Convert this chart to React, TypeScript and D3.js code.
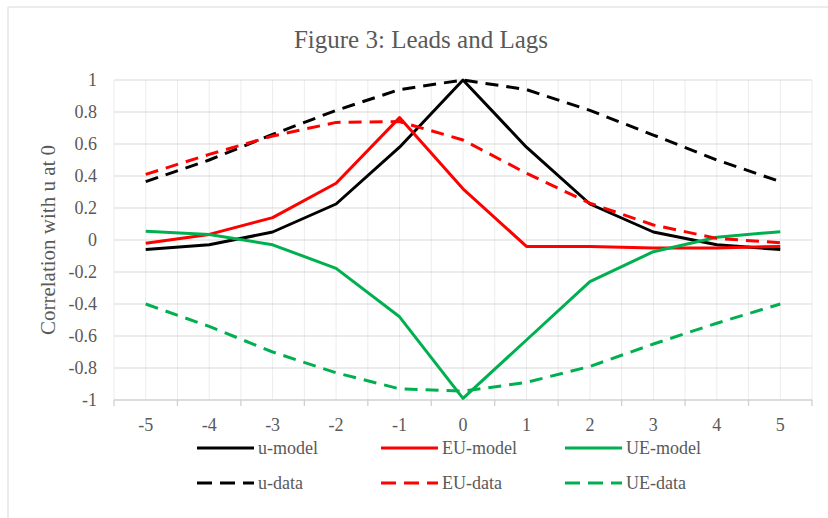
import * as d3 from "d3";
import React from "react";

// lags on the x axis
const lags = ["-5", "-4", "-3", "-2", "-1", "0", "1", "2", "3", "4", "5"];
const yTicks = [1, 0.8, 0.6, 0.4, 0.2, 0, -0.2, -0.4, -0.6, -0.8, -1];

// correlation with u at 0
const uModel = [-0.06, -0.03, 0.05, 0.225, 0.58, 1.0, 0.58, 0.225, 0.05, -0.03, -0.06];
const euModel = [-0.02, 0.035, 0.14, 0.355, 0.765, 0.32, -0.04, -0.04, -0.05, -0.05, -0.04];
const ueModel = [0.055, 0.035, -0.03, -0.177, -0.48, -0.99, -0.625, -0.26, -0.073, 0.017, 0.052];
const uData = [0.365, 0.5, 0.66, 0.81, 0.94, 1.0, 0.94, 0.81, 0.656, 0.5, 0.365];
const euData = [0.41, 0.535, 0.65, 0.735, 0.74, 0.625, 0.417, 0.23, 0.094, 0.01, -0.017];
const ueData = [-0.4, -0.54, -0.7, -0.83, -0.93, -0.945, -0.89, -0.79, -0.65, -0.52, -0.4];

const series = [
  { name: "u-model", values: uModel, color: "#000000", dashed: false },
  { name: "EU-model", values: euModel, color: "#FF0000", dashed: false },
  { name: "UE-model", values: ueModel, color: "#00B050", dashed: false },
  { name: "u-data", values: uData, color: "#000000", dashed: true },
  { name: "EU-data", values: euData, color: "#FF0000", dashed: true },
  { name: "UE-data", values: ueData, color: "#00B050", dashed: true },
];

const FONT = "'Liberation Serif', 'Times New Roman', serif";
const TEXT = "#595959";

const App: React.FC = () => {
  const width = 828;
  const height = 518;
  const plot = { left: 114, right: 812, top: 80, bottom: 400 };

  const x = d3
    .scaleBand<string>()
    .domain(lags)
    .range([plot.left, plot.right])
    .paddingInner(0)
    .paddingOuter(0);
  const bw = x.bandwidth();
  const cx = (c: string) => (x(c) as number) + bw / 2;

  const y = d3.scaleLinear().domain([-1, 1]).range([plot.bottom, plot.top]);

  const line = d3
    .line<number>()
    .x((_, i) => cx(lags[i]))
    .y((d) => y(d));

  // vertical grid: at category boundaries and centres
  const vLines: number[] = [];
  lags.forEach((c) => {
    vLines.push(x(c) as number);
    vLines.push(cx(c));
  });
  vLines.push(plot.right);

  const legendCols = [197, 381, 565];
  const legendRows = [448, 483];

  return (
    <svg
      width={width}
      height={height}
      style={{ position: "absolute", left: 0, top: 0, background: "#fff" }}
    >
      <rect x={8} y={7} width={width} height={height} fill="#fff" stroke="#d9d9d9" strokeWidth={1} />

      <text x={421} y={48} textAnchor="middle" fontFamily={FONT} fontSize={25} fill={TEXT}>
        Figure 3: Leads and Lags
      </text>

      {/* grid */}
      {vLines.map((vx, i) => (
        <line key={"v" + i} x1={vx} x2={vx} y1={plot.top} y2={plot.bottom} stroke="#ececec" strokeWidth={1} />
      ))}
      {yTicks
        .filter((t) => t !== -1)
        .map((t) => (
          <line key={"h" + t} x1={plot.left} x2={plot.right} y1={y(t)} y2={y(t)} stroke="#d9d9d9" strokeWidth={1} />
        ))}

      {/* x axis */}
      <line x1={plot.left} x2={plot.right} y1={plot.bottom} y2={plot.bottom} stroke="#d0d0d0" strokeWidth={1.3} />
      {lags.map((c) => (
        <line key={"t" + c} x1={x(c) as number} x2={x(c) as number} y1={plot.bottom} y2={plot.bottom + 6} stroke="#d0d0d0" strokeWidth={1.3} />
      ))}
      <line x1={plot.right} x2={plot.right} y1={plot.bottom} y2={plot.bottom + 6} stroke="#d0d0d0" strokeWidth={1.3} />
      {lags.map((c) => (
        <text key={"xl" + c} x={cx(c)} y={431} textAnchor="middle" fontFamily={FONT} fontSize={18} fill={TEXT}>
          {c}
        </text>
      ))}

      {/* y axis labels */}
      {yTicks.map((t) => (
        <text key={"yl" + t} x={97} y={y(t)} dy="0.35em" textAnchor="end" fontFamily={FONT} fontSize={18} fill={TEXT}>
          {String(t)}
        </text>
      ))}
      <text
        transform={`translate(48,${(plot.top + plot.bottom) / 2}) rotate(-90)`}
        textAnchor="middle"
        dy="0.35em"
        fontFamily={FONT}
        fontSize={21}
        fill={TEXT}
      >
        Correlation with u at 0
      </text>

      {/* series */}
      {series.map((s) => (
        <path
          key={s.name}
          d={line(s.values) as string}
          fill="none"
          stroke={s.color}
          strokeWidth={3}
          strokeDasharray={s.dashed ? "13,8" : undefined}
          strokeLinejoin="round"
        />
      ))}

      {/* legend */}
      {series.map((s, i) => {
        const lx = legendCols[i % 3];
        const ly = legendRows[Math.floor(i / 3)];
        return (
          <g key={"lg" + s.name}>
            <line x1={lx} x2={lx + 57} y1={ly} y2={ly} stroke={s.color} strokeWidth={3} strokeDasharray={s.dashed ? "15,8" : undefined} />
            <text x={lx + 61} y={ly} dy="0.35em" fontFamily={FONT} fontSize={18} fill={TEXT}>
              {s.name}
            </text>
          </g>
        );
      })}
    </svg>
  );
};

export default App;
